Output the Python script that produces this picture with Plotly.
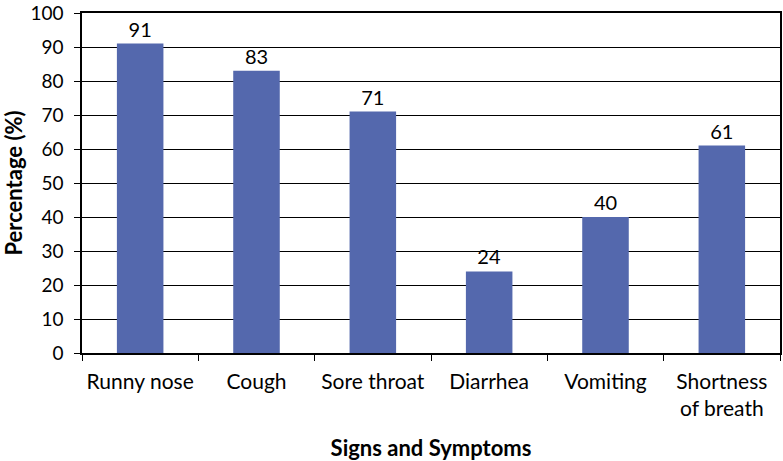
import plotly.graph_objects as go

# ---- data
symptoms = ["Runny nose", "Cough", "Sore throat", "Diarrhea", "Vomiting", "Shortness<br>of breath"]
percent = [91, 83, 71, 24, 40, 61]
y_ticks = list(range(0, 101, 10))

bar_color = "#5468AD"
font_name = "Lato, Open Sans, sans-serif"

trace = go.Bar(
    x=symptoms,
    y=percent,
    marker=dict(color=bar_color, line=dict(width=0)),
    width=0.4,
    text=[str(v) for v in percent],
    textposition="outside",
    textfont=dict(size=20, color="black"),
    cliponaxis=False,
)

layout = go.Layout(
    width=783,
    height=461,
    margin=dict(l=82, r=3, t=13, b=108, autoexpand=False),
    plot_bgcolor="white",
    paper_bgcolor="white",
    font=dict(family=font_name, size=21, color="black"),
    showlegend=False,
    xaxis=dict(
        title=dict(text="<b>Signs and Symptoms</b>", font=dict(size=22), standoff=22),
        automargin=False,
        tickson="boundaries",
        ticks="outside",
        ticklen=6,
        ticklabelstandoff=9,
        tickcolor="black",
        showline=True,
        mirror=True,
        linecolor="black",
        linewidth=1.5,
        showgrid=False,
        tickfont=dict(size=21),
    ),
    yaxis=dict(
        title=dict(text="<b>Percentage (%)</b>", font=dict(size=22), standoff=8),
        automargin=False,
        range=[0, 100],
        tickmode="array",
        tickvals=y_ticks,
        ticklabeloverflow="allow",
        ticks="outside",
        ticklen=6,
        ticklabelstandoff=7,
        tickcolor="black",
        showline=True,
        mirror=True,
        linecolor="black",
        linewidth=1.5,
        showgrid=True,
        gridcolor="black",
        gridwidth=1,
        zeroline=False,
        tickfont=dict(size=19),
    ),
)

fig = go.Figure(data=[trace], layout=layout)
# page body has an 8px default margin; drop it so the figure sits at the corner
fig.write_html("out.html", config={"displayModeBar": False},
               post_script="document.body.style.margin='0';")
